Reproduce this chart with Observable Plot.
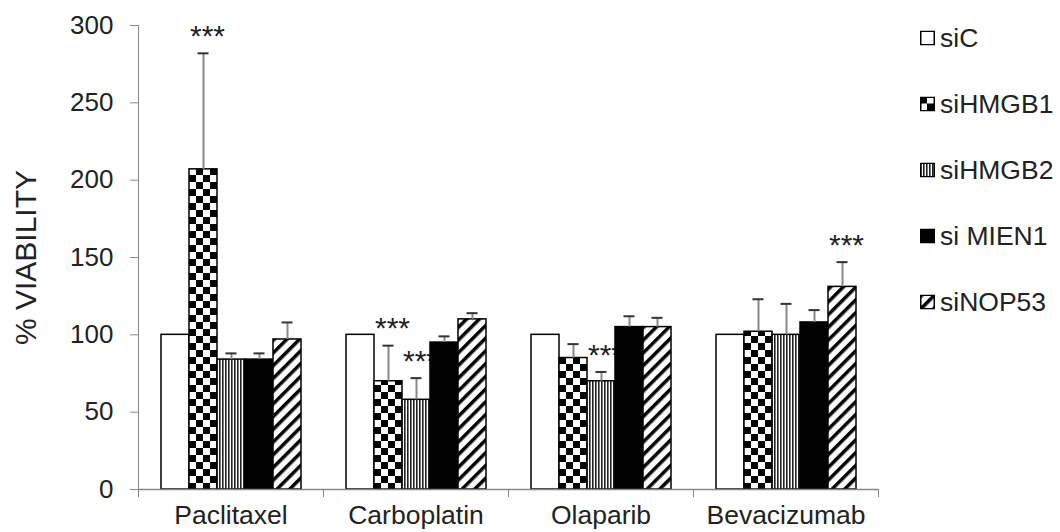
<!DOCTYPE html>
<html><head><meta charset="utf-8">
<script src="https://cdn.jsdelivr.net/npm/d3@7"></script>
<script src="https://cdn.jsdelivr.net/npm/@observablehq/plot@0.6"></script>
<style>
body{margin:0;background:#fff;}
#wrap{position:relative;width:1060px;height:532px;overflow:hidden;font-family:"Liberation Sans",Arial,sans-serif;background:#fff;}
#wrap svg text{fill:#222;}
g[aria-label="y-axis tick label"]{font-size:26px;}
g[aria-label="y-axis label"]{font-size:30px;}
g[aria-label="fx-axis tick label"]{font-size:26.5px;}
#legend{position:absolute;left:920px;top:0;}
.item{position:absolute;left:0;display:flex;align-items:center;white-space:nowrap;font-size:26.5px;color:#222;transform:translateY(-50%);}
.item svg{margin-right:5px;display:block;}
</style>
</head><body>
<div id="wrap"><div id="legend"></div></div>
<script>
const drugs = ["Paclitaxel", "Carboplatin", "Olaparib", "Bevacizumab"];
const series = ["siC", "siHMGB1", "siHMGB2", "si MIEN1", "siNOP53"];
const valC     = [100, 100, 100, 100];
const valHMGB1 = [207, 70, 85, 102];
const valHMGB2 = [84, 58, 70, 100];
const valMIEN1 = [84, 95, 105, 108];
const valNOP53 = [97, 110, 105, 131];
const errC     = [0, 0, 0, 0];
const errHMGB1 = [75, 23, 9, 21];
const errHMGB2 = [4, 14, 6, 20];
const errMIEN1 = [4, 4, 7, 8];
const errNOP53 = [11, 4, 6, 16];
const significant = [["Paclitaxel","siHMGB1"],["Carboplatin","siHMGB1"],["Carboplatin","siHMGB2"],["Olaparib","siHMGB2"],["Bevacizumab","siNOP53"]];
const yTicks = [0, 50, 100, 150, 200, 250, 300];
const fills = ["white", "url(#checker)", "url(#vlines)", "black", "url(#diag)"];

const vals = [valC, valHMGB1, valHMGB2, valMIEN1, valNOP53];
const errs = [errC, errHMGB1, errHMGB2, errMIEN1, errNOP53];
const rows = [];
series.forEach((s, si) => drugs.forEach((d, di) => rows.push({drug: d, series: s, value: vals[si][di], err: errs[si][di], top: vals[si][di] + errs[si][di]})));
const errRows = rows.filter(r => r.err > 0);
const sigRows = significant.map(([d, s]) => rows.find(r => r.drug === d && r.series === s));

const W = 1060, H = 532, mL = 138, mR = 182, mT = 25, mB = 43;
const bw = (W - mL - mR) / drugs.length;

const chart = Plot.plot({
  width: W, height: H, marginLeft: mL, marginRight: mR, marginTop: mT, marginBottom: mB,
  style: {fontFamily: '"Liberation Sans", Arial, sans-serif', color: "#888", background: "white", overflow: "visible"},
  fx: {domain: drugs, padding: 0, label: null},
  x: {domain: series, paddingInner: 0, paddingOuter: 0.71, axis: null},
  y: {domain: [0, 300], ticks: yTicks, tickSize: 8, tickPadding: 17, line: true, label: "% VIABILITY", labelAnchor: "center", labelArrow: "none", labelOffset: 124},
  color: {domain: series, range: fills},
  marks: [
    Plot.text(sigRows, {fx: "drug", x: "series", y: "top", text: () => "***", fontSize: 30, dy: -17, dx: 4}),
    Plot.barY(rows, {fx: "drug", x: "series", y: "value", fill: "series", stroke: "black", strokeWidth: 1.5}),
    Plot.ruleX(errRows, {fx: "drug", x: "series", y1: "value", y2: "top", stroke: "#888", strokeWidth: 2}),
    Plot.tickY(errRows, {fx: "drug", x: "series", y: "top", stroke: "#333", strokeWidth: 2, insetLeft: 8.5, insetRight: 8.5}),
    Plot.ruleY([0], {stroke: "#888", strokeWidth: 1.5}),
    Plot.axisFx({anchor: "bottom", tickSize: 0, tickPadding: 16, label: null}),
    Plot.axisFx(drugs, {anchor: "bottom", tickSize: 8, dx: -bw / 2, tickFormat: () => "", label: null}),
    Plot.axisFx(drugs.slice(-1), {anchor: "bottom", tickSize: 8, dx: bw / 2, tickFormat: () => "", label: null})
  ]
});

const defs = d3.select(chart).insert("defs", ":first-child");
const ck = defs.append("pattern").attr("id", "checker").attr("patternUnits", "userSpaceOnUse").attr("width", 14).attr("height", 14);
ck.append("rect").attr("width", 14).attr("height", 14).attr("fill", "white");
ck.append("rect").attr("width", 7).attr("height", 7).attr("fill", "black");
ck.append("rect").attr("x", 7).attr("y", 7).attr("width", 7).attr("height", 7).attr("fill", "black");
const vl = defs.append("pattern").attr("id", "vlines").attr("patternUnits", "userSpaceOnUse").attr("width", 3).attr("height", 10);
vl.append("rect").attr("width", 3).attr("height", 10).attr("fill", "white");
vl.append("rect").attr("width", 1.6).attr("height", 10).attr("fill", "#222");
const dg = defs.append("pattern").attr("id", "diag").attr("patternUnits", "userSpaceOnUse").attr("width", 9).attr("height", 9).attr("patternTransform", "rotate(45)");
dg.append("rect").attr("width", 9).attr("height", 9).attr("fill", "white");
dg.append("rect").attr("width", 3.5).attr("height", 9).attr("fill", "black");

const wrap = document.getElementById("wrap");
wrap.insertBefore(chart, wrap.firstChild);

const legend = d3.select("#legend");
series.forEach((s, i) => {
  const item = legend.append("div").attr("class", "item").style("top", (38 + i * 66) + "px");
  const sw = item.append("svg").attr("width", 15).attr("height", 15);
  sw.append("rect").attr("x", 0.75).attr("y", 0.75).attr("width", 13.5).attr("height", 13.5).attr("fill", fills[i]).attr("stroke", "black").attr("stroke-width", 1.5);
  item.append("span").text(s);
});
</script>
</body></html>
